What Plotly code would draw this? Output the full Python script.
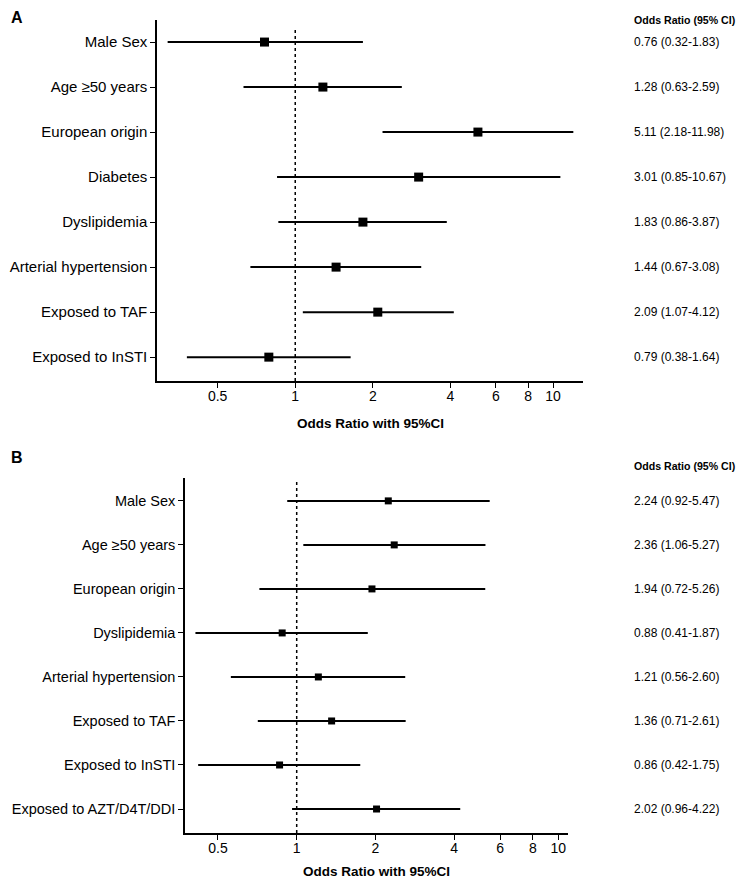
import math
import plotly.graph_objects as go

# Panel A
labels_a = ["Male Sex", "Age ≥50 years", "European origin", "Diabetes", "Dyslipidemia",
            "Arterial hypertension", "Exposed to TAF", "Exposed to InSTI"]
or_a = [0.76, 1.28, 5.11, 3.01, 1.83, 1.44, 2.09, 0.79]
lo_a = [0.32, 0.63, 2.18, 0.85, 0.86, 0.67, 1.07, 0.38]
hi_a = [1.83, 2.59, 11.98, 10.67, 3.87, 3.08, 4.12, 1.64]

# Panel B
labels_b = ["Male Sex", "Age ≥50 years", "European origin", "Dyslipidemia",
            "Arterial hypertension", "Exposed to TAF", "Exposed to InSTI", "Exposed to AZT/D4T/DDI"]
or_b = [2.24, 2.36, 1.94, 0.88, 1.21, 1.36, 0.86, 2.02]
lo_b = [0.92, 1.06, 0.72, 0.41, 0.56, 0.71, 0.42, 0.96]
hi_b = [5.47, 5.27, 5.26, 1.87, 2.60, 2.61, 1.75, 4.22]

xticks = [0.5, 1, 2, 4, 6, 8, 10]
xtick_text = ["0.5", "1", "2", "4", "6", "8", "10"]

# page body has an 8px default margin on every side
OFF = 8
W, H = 748 - 2 * OFF, 888 - 2 * OFF
FONT = "Liberation Sans, Arial, sans-serif"

fig = go.Figure()

def add_panel(labels, orv, lo, hi, xa, ya, msize):
    ys = list(range(len(labels)))
    fig.add_trace(go.Scatter(
        x=orv, y=ys, mode="markers", xaxis=xa, yaxis=ya,
        marker=dict(symbol="square", size=msize, color="black"),
        error_x=dict(type="data", symmetric=False,
                     array=[h - o for h, o in zip(hi, orv)],
                     arrayminus=[o - l for o, l in zip(orv, lo)],
                     color="black", thickness=2, width=0),
        showlegend=False, hoverinfo="skip"))

add_panel(labels_a, or_a, lo_a, hi_a, "x", "y", 9)
add_panel(labels_b, or_b, lo_b, hi_b, "x2", "y2", 7)

def px_x(p):
    return (p - OFF) / W

def px_y(p):
    return 1 - (p - OFF) / H

axis_common = dict(type="log", showgrid=False, zeroline=False, showline=True,
                   linecolor="black", linewidth=1.5, ticks="outside", ticklen=5,
                   tickwidth=1.2, tickcolor="black", tickvals=xticks, ticktext=xtick_text,
                   tickfont=dict(family=FONT, size=14, color="black"), automargin=False,
                   ticklabelstandoff=-4)
yaxis_common = dict(showgrid=False, zeroline=False, showline=True, linecolor="black",
                    linewidth=1.5, ticks="outside", ticklen=5, tickwidth=1.2,
                    tickcolor="black", automargin=False)

fig.update_layout(
    width=W, height=H, margin=dict(l=0, r=0, t=0, b=0),
    paper_bgcolor="white", plot_bgcolor="white", template="none",
    xaxis=dict(axis_common, domain=[px_x(157), px_x(583)],
               range=[math.log10(0.291), math.log10(13.06)], anchor="y"),
    yaxis=dict(yaxis_common, domain=[px_y(381), px_y(20)], anchor="x",
               tickvals=list(range(len(labels_a))), ticktext=labels_a,
               tickfont=dict(family=FONT, size=15, color="black"),
               range=[7.53, -0.49]),
    xaxis2=dict(axis_common, domain=[px_x(185), px_x(568)],
                range=[math.log10(0.374), math.log10(10.9)], anchor="y2"),
    yaxis2=dict(yaxis_common, domain=[px_y(833), px_y(478)], anchor="x2",
                tickvals=list(range(len(labels_b))), ticktext=labels_b,
                tickfont=dict(family=FONT, size=14.5, color="black"),
                range=[7.545, -0.52]),
)

# dotted reference lines at OR = 1
fig.add_shape(type="line", xref="x", yref="y domain", x0=1, x1=1, y0=0, y1=0.975,
              line=dict(color="black", width=1.5, dash="dot"))
fig.add_shape(type="line", xref="x2", yref="y2 domain", x0=1, x1=1, y0=0, y1=0.989,
              line=dict(color="black", width=1.5, dash="dot"))

ann = []
# axis titles
ann.append(dict(text="<b>Odds Ratio with 95%CI</b>", xref="paper", yref="paper",
                x=px_x(370), y=px_y(423), xanchor="center", yanchor="middle",
                showarrow=False, font=dict(family=FONT, size=13.5, color="black")))
ann.append(dict(text="<b>Odds Ratio with 95%CI</b>", xref="paper", yref="paper",
                x=px_x(376.5), y=px_y(871), xanchor="center", yanchor="middle",
                showarrow=False, font=dict(family=FONT, size=13.5, color="black")))
# panel letters
ann.append(dict(text="<b>A</b>", xref="paper", yref="paper", x=px_x(9), y=px_y(17),
                xanchor="left", yanchor="middle", showarrow=False,
                font=dict(family=FONT, size=16, color="black")))
ann.append(dict(text="<b>B</b>", xref="paper", yref="paper", x=px_x(9), y=px_y(458),
                xanchor="left", yanchor="middle", showarrow=False,
                font=dict(family=FONT, size=16, color="black")))
# right column headers
ann.append(dict(text="<b>Odds Ratio (95% CI)</b>", xref="paper", yref="paper",
                x=px_x(632), y=px_y(20), xanchor="left", yanchor="middle",
                showarrow=False, font=dict(family=FONT, size=10.6, color="black")))
ann.append(dict(text="<b>Odds Ratio (95% CI)</b>", xref="paper", yref="paper",
                x=px_x(632), y=px_y(466), xanchor="left", yanchor="middle",
                showarrow=False, font=dict(family=FONT, size=10.6, color="black")))

def fmt(o, l, h):
    return f"{o:.2f} ({l:.2f}-{h:.2f})"

for i, (o, l, h) in enumerate(zip(or_a, lo_a, hi_a)):
    ann.append(dict(text=fmt(o, l, h), xref="paper", yref="y", x=px_x(632), y=i,
                    xanchor="left", yanchor="middle", showarrow=False,
                    font=dict(family=FONT, size=12, color="black")))
for i, (o, l, h) in enumerate(zip(or_b, lo_b, hi_b)):
    ann.append(dict(text=fmt(o, l, h), xref="paper", yref="y2", x=px_x(632), y=i,
                    xanchor="left", yanchor="middle", showarrow=False,
                    font=dict(family=FONT, size=12, color="black")))

fig.update_layout(annotations=ann)
fig.write_html("out.html")
